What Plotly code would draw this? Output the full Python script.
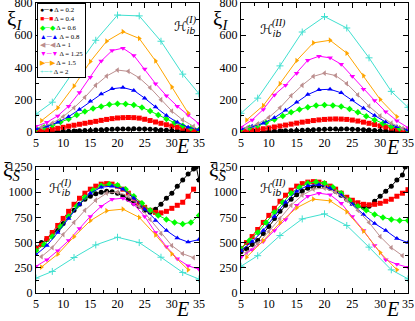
import plotly.graph_objects as go
from plotly.subplots import make_subplots

# energy grids (E values at which each curve was sampled)
e1 = [5, 6, 7, 8, 9, 10, 11, 12, 13, 14, 15, 16, 17, 18, 19, 20, 21, 22, 23, 24, 25, 26, 27, 28, 29, 30, 31, 32, 33, 34, 35]
e15 = [5, 6.5, 8, 9.5, 11, 12.5, 14, 15.5, 17, 18.5, 20, 21.5, 23, 24.5, 26, 27.5, 29, 30.5, 32, 33.5, 35]
e2odd = [5, 7, 9, 11, 13, 15, 17, 19, 21, 23, 25, 27, 29, 31, 33, 35]
e2even = [6, 8, 10, 12, 14, 16, 18, 20, 22, 24, 26, 28, 30, 32, 34]
e3 = [6, 9, 12, 15, 18, 21, 24, 27, 30, 33]
e4 = [5, 8, 12, 16, 20, 24, 28, 32, 35]
e_black_bl = [5, 6, 7, 8, 9, 10, 11, 12, 13, 14, 15, 16, 17, 18, 19, 20, 21, 22, 23, 24, 25, 26, 27, 28, 29, 30, 31, 32, 33, 34, 34.5, 35]
e_black_br = [5, 6, 7, 8, 9, 10, 11, 12, 13, 14, 15, 16, 17, 18, 19, 20, 21, 22, 23, 24, 25, 26, 27, 28, 29, 30, 31, 32, 33, 34, 34.5]
e_red_bl = [5, 6, 7, 8, 9, 10, 11, 12, 13, 14, 15, 16, 17, 18, 19, 20, 21, 22, 23, 24, 25, 26, 27, 28, 29, 30, 31, 32, 33, 34]

deltas = ["0.2", "0.4", "0.6", "0.8", "1", "1.25", "1.5", "2"]

# xi_I, H_ib^(I)
tl_02 = [1, 1, 2, 2, 3, 4, 5, 6, 7, 9, 10, 12, 14, 15, 17, 18, 19, 19, 20, 19, 18, 17, 15, 13, 11, 9, 7, 5, 4, 3, 2]
tl_04 = [6, 9, 12, 17, 23, 29, 36, 42, 48, 54, 60, 66, 72, 78, 83, 87, 89, 90, 89, 86, 79, 71, 62, 54, 45, 37, 30, 23, 17, 12, 8]
tl_06 = [20, 30, 43, 62, 80, 105, 127, 145, 158, 170, 175, 174, 167, 152, 130, 105, 80, 57, 38, 24, 14]
tl_08 = [20, 35, 60, 95, 140, 190, 235, 268, 276, 258, 210, 155, 102, 60, 30, 14]
tl_1 = [30, 55, 95, 150, 215, 290, 347, 384, 376, 336, 275, 200, 130, 75, 35]
tl_125 = [35, 60, 100, 160, 245, 340, 440, 505, 520, 475, 390, 300, 225, 160, 105, 52]
tl_15 = [70, 150, 285, 437, 563, 622, 580, 441, 279, 118]
tl_2 = [111, 185, 380, 569, 725, 720, 563, 359, 237]

# xi_I, H_ib^(II)
tr_02 = [1, 1, 2, 2, 3, 4, 5, 6, 7, 8, 10, 11, 13, 14, 16, 17, 18, 18, 18, 18, 17, 16, 14, 12, 10, 8, 6, 5, 3, 2, 2]
tr_04 = [6, 8, 11, 15, 20, 25, 31, 37, 43, 49, 55, 61, 66, 71, 75, 78, 80, 81, 80, 78, 74, 68, 61, 54, 46, 38, 31, 24, 18, 12, 8]
tr_06 = [18, 27, 40, 58, 78, 100, 122, 140, 154, 164, 167, 165, 158, 143, 122, 98, 74, 53, 35, 22, 12]
tr_08 = [20, 35, 55, 88, 135, 185, 232, 262, 265, 243, 198, 148, 102, 62, 32, 13]
tr_1 = [25, 50, 90, 150, 225, 290, 345, 365, 350, 300, 230, 160, 100, 55, 22]
tr_125 = [30, 75, 140, 230, 290, 365, 445, 470, 460, 420, 345, 265, 195, 125, 70, 27]
tr_15 = [74, 164, 300, 443, 553, 569, 489, 349, 202, 95]
tr_2 = [116, 210, 410, 620, 716, 645, 460, 252, 153]

# xi_S, H_ib^(I)
bl_02 = [450, 500, 530, 600, 620, 690, 760, 820, 880, 930, 960, 985, 1000, 1010, 1005, 990, 960, 930, 890, 860, 820, 800, 830, 880, 940, 990, 1060, 1120, 1180, 1230, 1250, 1120]
bl_04 = [440, 480, 540, 600, 670, 740, 810, 880, 940, 990, 1030, 1060, 1080, 1085, 1080, 1060, 1030, 990, 940, 890, 850, 820, 800, 795, 810, 840, 870, 900, 960, 1030]
bl_06 = [420, 480, 560, 660, 760, 860, 950, 1020, 1065, 1080, 1070, 1030, 960, 890, 820, 770, 730, 700, 685, 700, 770]
bl_08 = [380, 470, 600, 740, 880, 990, 1050, 1060, 1030, 940, 830, 720, 620, 545, 505, 530]
bl_1 = [360, 450, 580, 700, 820, 920, 990, 1000, 960, 860, 730, 590, 470, 390, 350]
bl_125 = [265, 330, 420, 520, 640, 760, 860, 930, 940, 880, 760, 600, 460, 340, 270, 235]
bl_15 = [257, 385, 559, 717, 816, 832, 750, 576, 388, 230]
bl_2 = [148, 214, 352, 477, 553, 500, 355, 204, 138]

# xi_S, H_ib^(II)
br_02 = [410, 440, 480, 520, 590, 660, 740, 810, 870, 930, 975, 1010, 1040, 1055, 1065, 1060, 1040, 1010, 970, 930, 890, 865, 850, 860, 910, 960, 1010, 1060, 1120, 1170, 1250]
br_04 = [440, 500, 560, 630, 700, 770, 840, 910, 970, 1020, 1060, 1085, 1100, 1105, 1100, 1085, 1060, 1030, 990, 950, 920, 895, 880, 875, 880, 890, 910, 930, 960, 990, 1025]
br_06 = [440, 520, 600, 700, 800, 900, 990, 1050, 1090, 1100, 1090, 1050, 990, 920, 860, 820, 780, 750, 730, 720, 720]
br_08 = [420, 510, 620, 760, 900, 1010, 1065, 1075, 1040, 970, 880, 780, 690, 620, 540, 500]
br_1 = [400, 490, 610, 740, 870, 970, 1030, 1040, 1000, 920, 820, 700, 560, 450, 370]
br_125 = [355, 430, 510, 620, 730, 870, 960, 990, 975, 890, 760, 620, 470, 330, 285, 255]
br_15 = [355, 520, 697, 845, 931, 914, 806, 615, 401, 230]
br_2 = [265, 370, 570, 735, 785, 670, 455, 230, 140]

colors = ["black", "#ff0000", "#00ff00", "#0000ff", "#bc8f8f", "#ff00ff", "#ffa500", "#40e0d0"]
symbols = ["circle", "square", "diamond", "triangle-up", "triangle-left", "triangle-down", "triangle-right", "cross-thin"]
glyphs = ["●", "■", "◆", "▲", "◀", "▼", "▶", "+"]

panels = [
    (1, 1, [e1, e1, e15, e2odd, e2even, e2odd, e3, e4], [tl_02, tl_04, tl_06, tl_08, tl_1, tl_125, tl_15, tl_2]),
    (1, 2, [e1, e1, e15, e2odd, e2even, e2odd, e3, e4], [tr_02, tr_04, tr_06, tr_08, tr_1, tr_125, tr_15, tr_2]),
    (2, 1, [e_black_bl, e_red_bl, e15, e2odd, e2even, e2odd, e3, e4], [bl_02, bl_04, bl_06, bl_08, bl_1, bl_125, bl_15, bl_2]),
    (2, 2, [e_black_br, e1, e15, e2odd, e2even, e2odd, e3, e4], [br_02, br_04, br_06, br_08, br_1, br_125, br_15, br_2]),
]

W, H = 415, 321
SERIF = "Liberation Serif"

fig = make_subplots(rows=2, cols=2)

for row, col, xs, ys in panels:
    for i in range(len(deltas)):
        cross = symbols[i] == "cross-thin"
        fig.add_trace(go.Scatter(x=xs[i], y=ys[i], mode="lines+markers", name="Δ = " + deltas[i],
                                 line=dict(color=colors[i], width=1),
                                 marker=dict(symbol=symbols[i], size=5, color=colors[i],
                                             line=dict(width=1 if cross else 0, color=colors[i])),
                                 showlegend=False),
                      row=row, col=col)

axis_common = dict(showline=True, linecolor="black", linewidth=1, mirror="ticks",
                   ticks="inside", ticklen=5, tickwidth=1, tickcolor="black",
                   showgrid=False, zeroline=False, automargin=False, ticklabeloverflow="allow",
                   tickfont=dict(family=SERIF, size=12, color="black"))

xdom_l = [36 / W, 199 / W]
xdom_r = [241 / W, 408 / W]
ydom_t = [1 - 132 / H, 1 - 3 / H]
ydom_b = [1 - 293 / H, 1 - 167 / H]

for i, (xd, yd, top) in enumerate([(xdom_l, ydom_t, True), (xdom_r, ydom_t, True),
                                   (xdom_l, ydom_b, False), (xdom_r, ydom_b, False)]):
    n = "" if i == 0 else str(i + 1)
    fig.layout["xaxis" + n].update(domain=xd, range=[5, 35], tick0=5, dtick=5,
                                   minor=dict(ticks="inside", ticklen=3, tickcolor="black", dtick=2.5, showgrid=False),
                                   **axis_common)
    if top:
        fig.layout["yaxis" + n].update(domain=yd, range=[0, 800], tick0=0, dtick=200,
                                       minor=dict(ticks="inside", ticklen=3, tickcolor="black", dtick=100, showgrid=False),
                                       **axis_common)
    else:
        fig.layout["yaxis" + n].update(domain=yd, range=[0, 1250], tick0=0, dtick=250,
                                       minor=dict(ticks="inside", ticklen=3, tickcolor="black", dtick=125, showgrid=False),
                                       **axis_common)


def px(x, y):
    return x / W, 1 - y / H


ann = []
# axis titles
for (x, y, sub) in [(5, 20, "I"), (211, 20, "I"), (1, 171, "S"), (207, 171, "S")]:
    xx, yy = px(x, y)
    ann.append(dict(x=xx, y=yy, xref="paper", yref="paper", xanchor="left", yanchor="middle",
                    text="ξ<sub><i>" + sub + "</i></sub>", showarrow=False,
                    font=dict(family=SERIF, size=21, color="black")))
for (x, y) in [(182, 146), (392, 147), (182, 309), (392, 309)]:
    xx, yy = px(x, y)
    ann.append(dict(x=xx, y=yy, xref="paper", yref="paper", xanchor="center", yanchor="middle",
                    text="<i>E</i>", showarrow=False, font=dict(family=SERIF, size=20, color="black")))
# Hamiltonian labels
for (x, y, lab) in [(172, 27, "I"), (258, 30, "II"), (47, 190, "I"), (258, 190, "II")]:
    xx, yy = px(x, y)
    ann.append(dict(x=xx, y=yy, xref="paper", yref="paper", xanchor="left", yanchor="middle",
                    text="ℋ<sub><i>ib</i></sub>", showarrow=False, font=dict(family="DejaVu Sans", size=13, color="black")))
    xx, yy = px(x + 12, y - 7)
    ann.append(dict(x=xx, y=yy, xref="paper", yref="paper", xanchor="left", yanchor="middle",
                    text="<i>(" + lab + ")</i>", showarrow=False, font=dict(family=SERIF, size=10, color="black")))

# legend box
lines = []
for i in range(len(deltas)):
    lines.append("<span style='color:%s'>%s─%s</span> Δ = %s" % (colors[i], glyphs[i], glyphs[i], deltas[i]))
xx, yy = px(36.5, 3.5)
ann.append(dict(x=xx, y=yy, xref="paper", yref="paper", xanchor="left", yanchor="top", align="left",
                text="<br>".join(lines), showarrow=False, bgcolor="white",
                bordercolor="black", borderwidth=1, borderpad=2,
                font=dict(family=SERIF, size=6.8, color="black")))

fig.update_layout(width=W, height=H, margin=dict(l=0, r=0, t=0, b=0),
                  paper_bgcolor="white", plot_bgcolor="white",
                  showlegend=False, annotations=ann,
                  font=dict(family=SERIF, color="black"))

fig.write_html("out.html", config={"displayModeBar": False},
               post_script="document.body.style.margin='0';")
